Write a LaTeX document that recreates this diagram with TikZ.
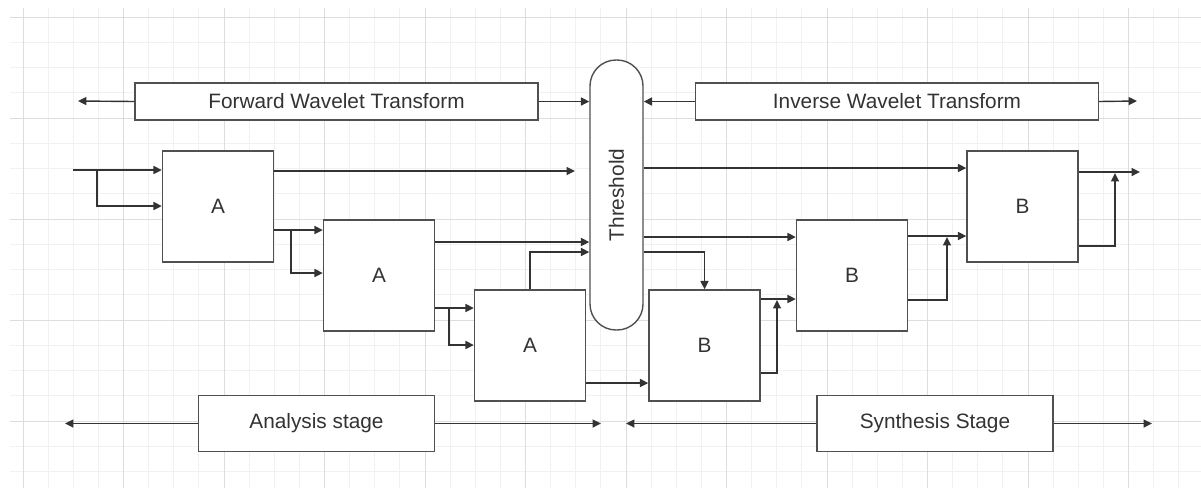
\documentclass[tikz,border=0pt]{standalone}
\usepackage{fontspec}
\setmainfont{Liberation Sans}
\usetikzlibrary{arrows.meta}
\definecolor{ln}{HTML}{333333}
\definecolor{bx}{HTML}{505050}
\definecolor{tx}{HTML}{333333}
\definecolor{gminor}{HTML}{F1F1F1}
\definecolor{gmajor}{HTML}{DDDDDD}
\tikzset{
  blk/.style={draw=bx, line width=0.7pt, fill=white, inner sep=0pt, text=tx,
    font=\fontsize{10.4}{12}\selectfont},
  sq/.style={blk, minimum width=55.5pt, minimum height=55.5pt},
  lbl/.style={blk, minimum width=201.5pt, minimum height=18.5pt},
  stg/.style={blk, minimum width=118pt, minimum height=28pt},
  conn/.style={draw=ln, line width=0.7pt},
  arr/.style={conn, -{Triangle[length=4.2pt,width=4pt]}},
}
\begin{document}
\begin{tikzpicture}[x=0.5pt,y=-0.5pt]
\useasboundingbox (0,0) rectangle (1201,488);
\fill[white] (0,0) rectangle (1201,488);
% grid
\begin{scope}
\clip (10,8) rectangle (1201,488);
\foreach \i in {0,...,48} {
  \draw[gminor, line width=0.5pt] ({-2.125+25.125*\i},8) -- ({-2.125+25.125*\i},488);
}
\foreach \i in {0,...,20} {
  \draw[gminor, line width=0.5pt] (10,{-8.25+25.25*\i}) -- (1201,{-8.25+25.25*\i});
}
\foreach \i in {0,...,12} {
  \draw[gmajor, line width=0.5pt] ({23+100.5*\i},8) -- ({23+100.5*\i},488);
}
\foreach \i in {0,...,5} {
  \draw[gmajor, line width=0.5pt] (10,{17+101*\i}) -- (1201,{17+101*\i});
}
\end{scope}

% nodes
\node[lbl] (fwt) at (336.5,101.5) {Forward Wavelet Transform};
\node[lbl] (iwt) at (897,101.5) {Inverse Wavelet Transform};
\node[blk, minimum width=26.5pt, minimum height=135pt, rounded corners=13pt] (thr) at (616.5,195) {};
\node[text=tx, font=\fontsize{10.4}{12}\selectfont, rotate=90] (thrt) at (thr.center) {Threshold};
\node[sq] (A1) at (218,206.5) {A};
\node[sq] (A2) at (379,275.5) {A};
\node[sq] (A3) at (530,345.5) {A};
\node[sq] (B1) at (704.5,345.5) {B};
\node[sq] (B2) at (852,275.5) {B};
\node[sq] (B3) at (1022.5,206.5) {B};
\node[stg] (ana) at (316.5,423.5) {Analysis stage};
\node[stg] (syn) at (935,423.5) {Synthesis Stage};

% free ends
\coordinate (fwtL) at (78,101);
\coordinate (iwtR) at (1137,101);
\coordinate (in) at (73,170);
\coordinate (inB) at (97,170);
\coordinate (t1) at (575,171);
\coordinate (b12) at (291,230);
\coordinate (b23) at (449,308);
\coordinate (u1) at (777,300);
\coordinate (u2) at (947,237);
\coordinate (u3) at (1115,173);
\coordinate (out) at (1140,172);
\coordinate (anaL) at (65,423.5);
\coordinate (anaR) at (601,423.5);
\coordinate (synL) at (626,423.5);
\coordinate (synR) at (1152,423.5);

% top labels
\draw[arr] (fwt.west) -- (fwtL);
\draw[arr] (fwt.east) -- (fwt.east -| thr.west);
\draw[arr] (iwt.west) -- (iwt.west -| thr.east);
\draw[arr] (iwt.east) -- (iwtR);

% analysis chain
\draw[arr] (in) -- (A1.west |- in);
\draw[arr] (inB) |- (A1.west |- 0,206);
\draw[arr] (A1.east |- t1) -- (t1);
\draw[arr] (A1.east |- b12) -- (A2.west |- b12);
\draw[arr] (b12) |- (A2.west |- 0,273);
\draw[arr] (A2.east |- 0,242) -- (thr.west |- 0,242);
\draw[arr] (A3.north) |- (thr.west |- 0,252);
\draw[arr] (A2.east |- b23) -- (A3.west |- b23);
\draw[arr] (b23) |- (A3.west |- 0,345);
\draw[arr] (A3.east |- 0,383) -- (B1.west |- 0,383);

% synthesis chain
\draw[arr] (thr.east |- 0,168) -- (B3.west |- 0,168);
\draw[arr] (thr.east |- 0,237) -- (B2.west |- 0,237);
\draw[arr] (thr.east |- 0,252) -| (B1.north);
\draw[arr] (B1.east |- 0,299) -- (B2.west |- 0,299);
\draw[arr] (B1.east |- 0,373) -| (u1);
\draw[arr] (B2.east |- 0,236) -- (B3.west |- 0,236);
\draw[arr] (B2.east |- 0,300) -| (u2);
\draw[arr] (B3.east |- out) -- (out);
\draw[arr] (B3.east |- 0,246) -| (u3);

% stage labels
\draw[arr] (ana.west) -- (anaL);
\draw[arr] (ana.east) -- (anaR);
\draw[arr] (syn.west) -- (synL);
\draw[arr] (syn.east) -- (synR);
\end{tikzpicture}
\end{document}
